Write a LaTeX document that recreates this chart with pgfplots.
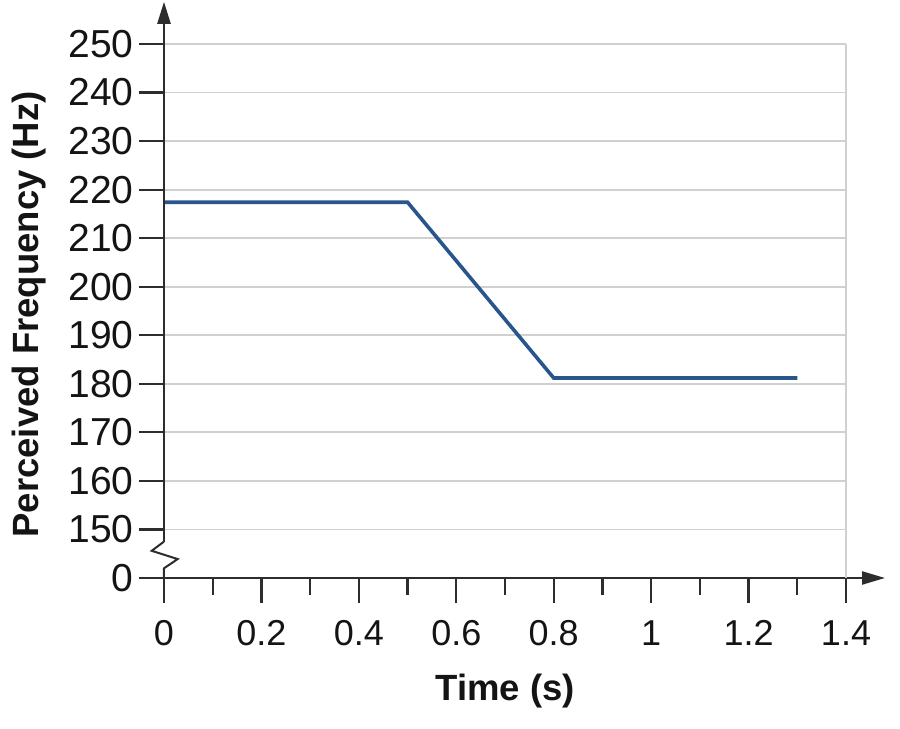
\documentclass[border=0pt]{standalone}
\usepackage{fontspec}
\setmainfont{Liberation Sans}
\usepackage{pgfplots}
\pgfplotsset{compat=1.18}
\usetikzlibrary{arrows.meta}
\definecolor{lineblue}{RGB}{40,86,140}
\definecolor{gridgray}{RGB}{208,208,208}
\definecolor{axisgray}{RGB}{45,45,45}
\begin{document}
\begin{tikzpicture}
\useasboundingbox (-164bp,-151bp) rectangle (736bp,578bp);
\begin{axis}[
  anchor=south west, at={(0,0)},
  scale only axis, width=682bp, height=534bp,
  xmin=0, xmax=1.4, ymin=140, ymax=250,
  axis lines=left,
  clip=false,
  x axis line style={draw=axisgray, line width=2.4bp, -{Triangle[length=23bp,width=13bp]}, shorten >=-39bp},
  y axis line style={draw=none},
  xtick={0,0.2,0.4,0.6,0.8,1,1.2,1.4},
  xticklabels={0,0.2,0.4,0.6,0.8,1,1.2,1.4},
  minor xtick={0.1,0.3,0.5,0.7,0.9,1.1,1.3},
  ytick={140,150,160,170,180,190,200,210,220,230,240,250},
  yticklabels={0,150,160,170,180,190,200,210,220,230,240,250},
  tick align=outside,
  major tick length=25bp, minor tick length=17bp,
  tick style={axisgray, line width=2.2bp},
  ymajorgrids,
  grid style={gridgray, line width=1.8bp},
  /pgf/number format/assume math mode=true,
  xticklabel style={font=\fontsize{36bp}{43bp}\selectfont, text=black!92, yshift=-14bp},
  yticklabel style={font=\fontsize{39bp}{46bp}\selectfont, text=black!92, xshift=-2bp},
  xlabel={Time (s)},
  ylabel={Perceived Frequency (Hz)},
  label style={font=\fontsize{36.5bp}{43bp}\selectfont\bfseries, text=black!92},
  xlabel style={at={(axis cs:0.7,116.7)}, anchor=center},
  ylabel style={at={(axis cs:-0.2772,194.3)}, anchor=center},
]
\draw[gridgray, line width=1.8bp] (axis cs:1.4,140) -- (axis cs:1.4,250);
\addplot[lineblue, line width=3.6bp, line join=miter] coordinates {
  (0,217.4) (0.5,217.4) (0.8,181.2) (1.3,181.2)
};
\draw[axisgray, line width=2.4bp, -{Triangle[length=22bp,width=13bp]}]
  (axis cs:0,147.5) -- (axis cs:0,258.7);
\draw[axisgray, line width=2bp, line join=miter]
  (axis cs:0,147.5) -- (axis cs:-0.0252,145.6) -- (axis cs:0.0281,143.9) -- (axis cs:0,142) -- (axis cs:0,140);
\end{axis}
\end{tikzpicture}
\end{document}
